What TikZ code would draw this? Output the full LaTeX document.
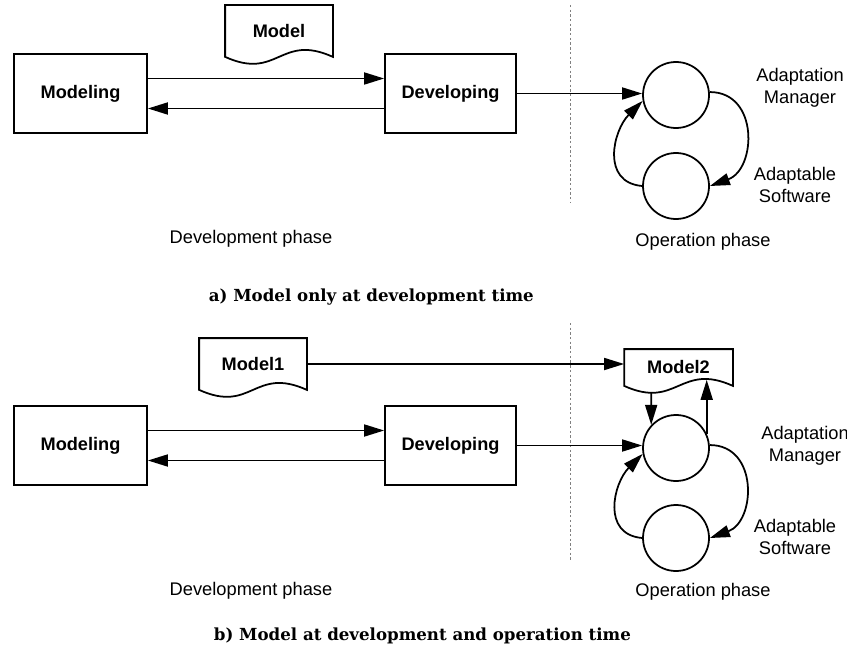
\documentclass[tikz,border=0pt]{standalone}
\usepackage{fontspec}
\setsansfont{Liberation Sans}
\newfontfamily\capfont{DejaVu Serif}
\usetikzlibrary{calc,arrows.meta}

\tikzset{
  box/.style={draw, minimum width=3.99cm, minimum height=2.37cm, inner sep=0pt,
    font=\sffamily\bfseries\fontsize{15.5}{18}\selectfont},
  doc/.style={minimum width=3.18cm, minimum height=1.5cm, inner sep=0pt,
    font=\sffamily\bfseries\fontsize{15.5}{18}\selectfont},
  circ/.style={draw, circle, minimum size=1.98cm, inner sep=0pt},
  lbl/.style={align=center, inner sep=0pt, font=\sffamily\fontsize{15.6}{19}\selectfont},
  capt/.style={anchor=west, inner sep=0pt, font=\capfont\bfseries\fontsize{14.2}{16}\selectfont},
  phase/.style={gray, line width=0.8pt, dash pattern=on 2pt off 2pt}
}

% outline of a document with a wavy lower edge
\newcommand{\docshape}[1]{%
  \draw (#1.south west) .. controls +(53,24) and +(-53,-24) .. (#1.south east)
    -- (#1.north east) -- (#1.north west) -- cycle;
}

\begin{document}
\begin{tikzpicture}[x=0.03cm, y=-0.03cm, line width=1.5pt,
  >={Triangle[length=6mm,width=3.6mm]}]
\useasboundingbox (0,0) rectangle (847,649);

% a) model only at development time
\node[box] (mod) at (80.5,93.5) {Modeling};
\node[box, minimum width=3.93cm] (dev) at (450.5,93.5) {Developing};
\node[doc] (mdl) at (279,31) {Model};
\docshape{mdl}
\node[circ] (mgr) at (676,95) {};
\node[circ] (sw) at (676,186) {};
\draw[phase] (570,5) -- (570,202);

\draw[->] ([yshift=0.45cm]mod.east) -- ([yshift=0.45cm]dev.west);
\draw[->] ([yshift=-0.45cm]dev.west) -- ([yshift=-0.45cm]mod.east);
\draw[->] (dev.east) -- (dev.east -| mgr.west);
\draw[->] (mgr.5) to[out=0, in=20, looseness=1.35] (sw.east);
\draw[->] (sw.west) to[out=175, in=225, looseness=1.25] (mgr.190);

\node[lbl] (mgrlbl) at (800,88) {Adaptation\\Manager};
\node[lbl] (swlbl) at (795,185) {Adaptable\\Software};
\node[lbl] (devph) at (251,239) {Development phase};
\node[lbl] (opph) at (703,242) {Operation phase};
\node[capt] (capa) at (208,297) {a) Model only at development time};

% b) model at development and operation time
\node[box] (mod2) at (80.5,445.5) {Modeling};
\node[box, minimum width=3.93cm] (dev2) at (450.5,445.5) {Developing};
\node[doc] (m1) at (253,364) {Model1};
\docshape{m1}
\node[doc, minimum width=3.21cm, minimum height=1.05cm] (m2) at (678.5,367.5) {Model2};
\docshape{m2}
\node[circ] (mgr2) at (676,448) {};
\node[circ] (sw2) at (676,538) {};
\draw[phase] (570,323) -- (570,560);

\draw[->] (m1.east) -- (m1.east -| m2.west);
\draw[->] ([yshift=0.45cm]mod2.east) -- ([yshift=0.45cm]dev2.west);
\draw[->] ([yshift=-0.45cm]dev2.west) -- ([yshift=-0.45cm]mod2.east);
\draw[->] (dev2.east) -- (dev2.east -| mgr2.west);
\draw[->] (mgr2.5) to[out=0, in=20, looseness=1.35] (sw2.east);
\draw[->] (sw2.west) to[out=175, in=225, looseness=1.25] (mgr2.190);

\coordinate (m2in) at ($(m2.south west)+(27,7)$);
\coordinate (m2out) at ($(m2.south west)+(81,-6)$);
\draw[->] (m2in) -- (mgr2.137);
\draw[->] (mgr2.25) -- (mgr2.25 |- m2out);

\node[lbl] (mgrlbl2) at (805,446) {Adaptation\\Manager};
\node[lbl] (swlbl2) at (795,537) {Adaptable\\Software};
\node[lbl] (devph2) at (251,591) {Development phase};
\node[lbl] (opph2) at (703,592) {Operation phase};
\node[capt] (capb) at (213,636) {b) Model at development and operation time};
\end{tikzpicture}
\end{document}
